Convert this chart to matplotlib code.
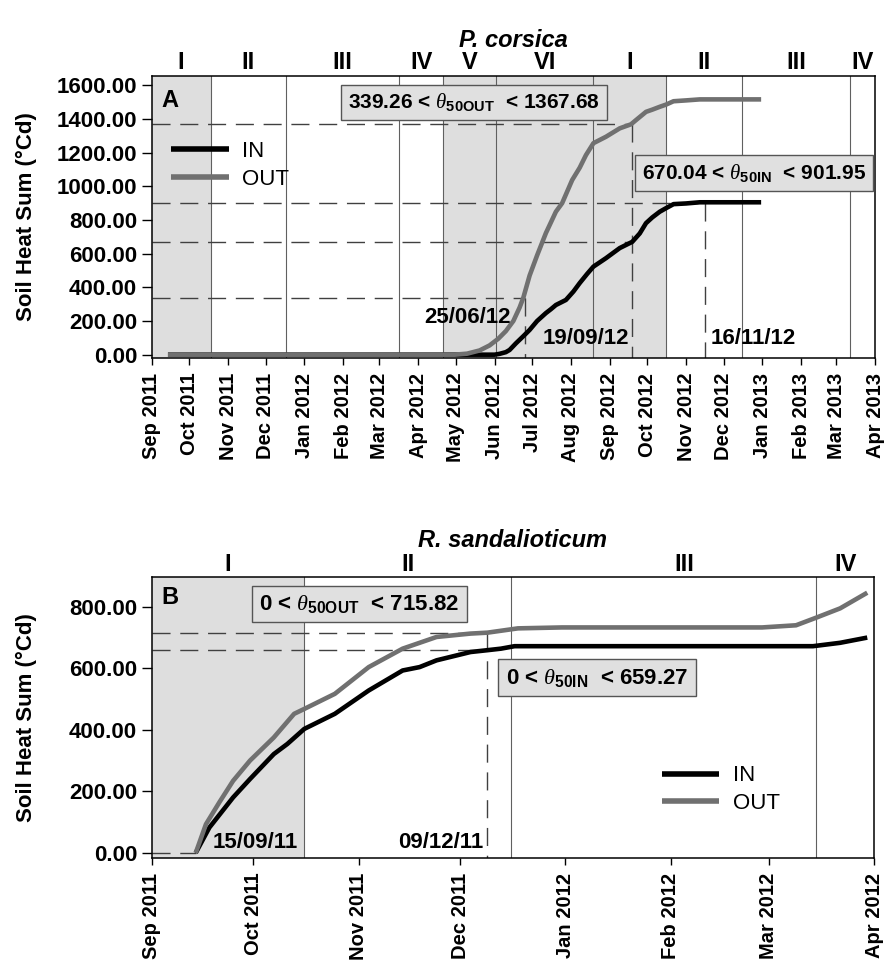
import matplotlib
matplotlib.use('Agg')
import matplotlib.pyplot as plt
import matplotlib.dates as mdates
import pandas as pd

plt.rcParams['font.family'] = ['Liberation Sans', 'DejaVu Sans']
plt.rcParams['mathtext.fontset'] = 'custom'
plt.rcParams['mathtext.rm'] = 'Liberation Sans:bold'
plt.rcParams['mathtext.it'] = 'Liberation Serif:italic'
plt.rcParams['mathtext.bf'] = 'Liberation Sans:bold'

# ---------------- DATA ----------------
# Panel A: P. corsica
a_out_dates = ['2011-09-14', '2012-04-30', '2012-05-10', '2012-05-20', '2012-05-28', '2012-06-04',
               '2012-06-10', '2012-06-16', '2012-06-21', '2012-06-24', '2012-06-29', '2012-07-05',
               '2012-07-12', '2012-07-20', '2012-07-25', '2012-08-02', '2012-08-08', '2012-08-13',
               '2012-08-19', '2012-08-29', '2012-09-09', '2012-09-18', '2012-09-22', '2012-09-30',
               '2012-10-05', '2012-10-11', '2012-10-16', '2012-10-22', '2012-11-01', '2012-11-12',
               '2012-12-31']
a_out_vals = [0, 0, 6, 25, 55, 95,
              140, 200, 280, 339, 470, 590,
              722, 849, 900, 1037, 1110, 1185,
              1256, 1294, 1344, 1368, 1393, 1442,
              1455, 1472, 1485, 1505, 1510, 1516,
              1516]
a_in_dates = ['2011-09-14', '2012-06-01', '2012-06-05', '2012-06-10', '2012-06-13', '2012-06-18',
              '2012-06-24', '2012-06-29', '2012-07-05', '2012-07-12', '2012-07-16', '2012-07-20',
              '2012-07-28', '2012-08-03', '2012-08-08', '2012-08-14', '2012-08-19', '2012-08-29',
              '2012-09-09', '2012-09-19', '2012-09-25', '2012-09-30', '2012-10-05', '2012-10-11',
              '2012-10-16', '2012-10-22', '2012-11-01', '2012-11-12', '2012-12-31']
a_in_vals = [0, 0, 5, 15, 28, 67,
             110, 147, 200, 247, 270, 295,
             325, 375, 425, 480, 523, 573,
             633, 670, 720, 781, 815, 849,
             870, 894, 898, 905, 905]
a_phase_bounds = ['2011-09-01', '2011-10-18', '2011-12-17', '2012-03-17', '2012-04-21', '2012-06-02',
                  '2012-08-19', '2012-10-16', '2012-12-16', '2013-03-12', '2013-04-01']
a_phase_labels = ['I', 'II', 'III', 'IV', 'V', 'VI', 'I', 'II', 'III', 'IV']
a_shaded = [('2011-09-01', '2011-10-18'), ('2012-04-21', '2012-10-16')]
a_xlim = ('2011-09-01', '2013-04-01')
a_ylim = (-20, 1655)
a_yticks = [0, 200, 400, 600, 800, 1000, 1200, 1400, 1600]
# thresholds: (value, end date of horizontal dashed line, draw vertical?)
a_thresh = [(1367.68, '2012-09-19', True), (901.95, '2012-11-16', True),
            (670.04, '2012-09-19', False), (339.26, '2012-06-25', True)]
a_date_labels = [('25/06/12', '2012-06-25', 218, 'right', -10),
                 ('19/09/12', '2012-09-19', 99, 'right', -2),
                 ('16/11/12', '2012-11-16', 99, 'left', 4)]
a_box_texts = [r'339.26 < $\theta_{\mathbf{50OUT}}$  < 1367.68',
               r'670.04 < $\theta_{\mathbf{50IN}}$  < 901.95']

# Panel B: R. sandalioticum
b_out_dates = ['2011-09-14', '2011-09-17', '2011-09-21', '2011-09-25', '2011-09-30', '2011-10-07',
               '2011-10-13', '2011-10-16', '2011-10-25', '2011-11-04', '2011-11-14', '2011-11-24',
               '2011-12-04', '2011-12-09', '2011-12-18', '2011-12-31', '2012-02-28', '2012-03-09',
               '2012-03-15', '2012-03-22', '2012-03-30']
b_out_vals = [0, 93, 165, 234, 300, 375,
              452, 468, 517, 604, 664, 702,
              713, 716, 730, 733, 733, 740,
              765, 795, 846]
b_in_dates = ['2011-09-14', '2011-09-18', '2011-09-25', '2011-09-30', '2011-10-07', '2011-10-11',
              '2011-10-16', '2011-10-25', '2011-11-04', '2011-11-14', '2011-11-19', '2011-11-24',
              '2011-12-04', '2011-12-09', '2011-12-13', '2011-12-17', '2012-03-14', '2012-03-22',
              '2012-03-30']
b_in_vals = [0, 82, 180, 240, 321, 354,
             403, 452, 528, 593, 604, 626,
             653, 659, 664, 672, 672, 683,
             700]
b_phase_bounds = ['2011-09-01', '2011-10-16', '2011-12-16', '2012-03-15', '2012-04-01']
b_phase_labels = ['I', 'II', 'III', 'IV']
b_label_dates = [None, None, '2012-02-05', None]   # override of label centre (None = middle)
b_shaded = [('2011-09-01', '2011-10-16')]
b_xlim = ('2011-09-01', '2012-04-01')
b_ylim = (-17, 896)
b_yticks = [0, 200, 400, 600, 800]
b_thresh = [(715.82, '2011-12-09', True), (659.27, '2011-12-09', False), (0, '2011-09-14', False)]
b_date_labels = [('15/09/11', '2011-09-15', 33, 'left', 10),
                 ('09/12/11', '2011-12-09', 33, 'right', -3)]
b_box_texts = [r'0 < $\theta_{\mathbf{50OUT}}$  < 715.82',
               r'0 < $\theta_{\mathbf{50IN}}$  < 659.27']

GRAY = '#707070'
SHADE = '#dedede'
D = pd.to_datetime

fig = plt.figure(figsize=(8.86, 9.63), dpi=100)
axA = fig.add_axes([0.1712, 0.6282, 0.8164, 0.2929])
axB = fig.add_axes([0.1712, 0.1090, 0.8153, 0.2915])


def draw_panel(ax, out_d, out_v, in_d, in_v, bounds, plabels, label_dates, shaded, xlim, ylim,
               yticks, thresh, dlabels, boxes, box_pos, box_fs, letter, letter_y, leg_anchor,
               title, title_y):
    x0, x1 = D(xlim[0]), D(xlim[1])
    for s, e in shaded:
        ax.axvspan(D(s), D(e), color=SHADE, zorder=0, lw=0)
    for b in bounds[1:-1]:
        ax.axvline(D(b), color='#606060', lw=0.8, zorder=1)
    for i, lab in enumerate(plabels):
        if label_dates and label_dates[i]:
            mid = D(label_dates[i])
        else:
            mid = D(bounds[i]) + (D(bounds[i + 1]) - D(bounds[i])) / 2
        ax.text(mid, 1.047, lab, transform=ax.get_xaxis_transform(), ha='center', va='center',
                fontsize=17, fontweight='bold')
    dash = (0, (13, 7))
    for val, end, vert in thresh:
        ax.plot([x0, D(end)], [val, val], color='#404040', lw=1.0, ls=dash, zorder=2)
        if vert:
            ax.plot([D(end), D(end)], [val, ylim[0]], color='#404040', lw=1.0, ls=dash, zorder=2)
    ax.plot(D(in_d), in_v, color='black', lw=3.3, zorder=3, label='IN', solid_capstyle='butt')
    ax.plot(D(out_d), out_v, color=GRAY, lw=3.3, zorder=4, label='OUT', solid_capstyle='butt')
    for txt, d, v, ha, off in dlabels:
        ax.annotate(txt, xy=(D(d), v), xytext=(off, 0), textcoords='offset points', ha=ha,
                    va='center', fontsize=16, fontweight='bold', zorder=6)
    for txt, (bx, by) in zip(boxes, box_pos):
        ax.text(bx, by, txt, transform=ax.transAxes, ha='center', va='center', fontsize=box_fs,
                fontweight='bold', zorder=7,
                bbox=dict(boxstyle='square,pad=0.33', facecolor='#e0e0e0', edgecolor='#555555', lw=1))
    ax.text(0.014, letter_y, letter, transform=ax.transAxes, ha='left', va='center',
            fontsize=17, fontweight='bold')
    leg = ax.legend(loc='upper left', bbox_to_anchor=leg_anchor, frameon=False, fontsize=16,
                    handlelength=2.6, handletextpad=0.6, labelspacing=0.3, borderpad=0,
                    borderaxespad=0)
    for h in leg.get_lines():
        h.set_linewidth(4)
    ax.set_xlim(x0, x1)
    ax.set_ylim(*ylim)
    ax.set_yticks(yticks)
    ax.set_yticklabels(['%.2f' % t for t in yticks])
    ax.xaxis.set_major_locator(mdates.MonthLocator())
    ax.xaxis.set_major_formatter(mdates.DateFormatter('%b %Y'))
    for lab in ax.get_xticklabels():
        lab.set_rotation(90)
        lab.set_fontweight('bold')
        lab.set_fontsize(14.5)
    for lab in ax.get_yticklabels():
        lab.set_fontweight('bold')
        lab.set_fontsize(16)
    ax.tick_params(axis='x', length=5, width=1, pad=5.5, direction='out')
    ax.tick_params(axis='y', length=7, width=1, pad=3.5, direction='out')
    for sp in ax.spines.values():
        sp.set_linewidth(1.1)
    pos = ax.get_position()
    fig.text(0.0293, (pos.y0 + pos.y1) / 2, 'Soil Heat Sum (°Cd)', rotation=90, ha='center',
             va='center', fontsize=16, fontweight='bold')
    fig.text((pos.x0 + pos.x1) / 2, title_y, title, ha='center', va='center', fontsize=17,
             fontweight='bold', style='italic')


draw_panel(axA, a_out_dates, a_out_vals, a_in_dates, a_in_vals, a_phase_bounds, a_phase_labels,
           None, a_shaded, a_xlim, a_ylim, a_yticks, a_thresh, a_date_labels, a_box_texts,
           [(0.4456, 0.906), (0.8324, 0.655)], 15, 'A', 0.913, (0.027, 0.77), 'P. corsica', 0.958)
draw_panel(axB, b_out_dates, b_out_vals, b_in_dates, b_in_vals, b_phase_bounds, b_phase_labels,
           b_label_dates, b_shaded, b_xlim, b_ylim, b_yticks, b_thresh, b_date_labels, b_box_texts,
           [(0.2877, 0.905), (0.6165, 0.643)], 16, 'B', 0.928, (0.706, 0.33), 'R. sandalioticum',
           0.439)

fig.savefig('out.png', dpi=100)
